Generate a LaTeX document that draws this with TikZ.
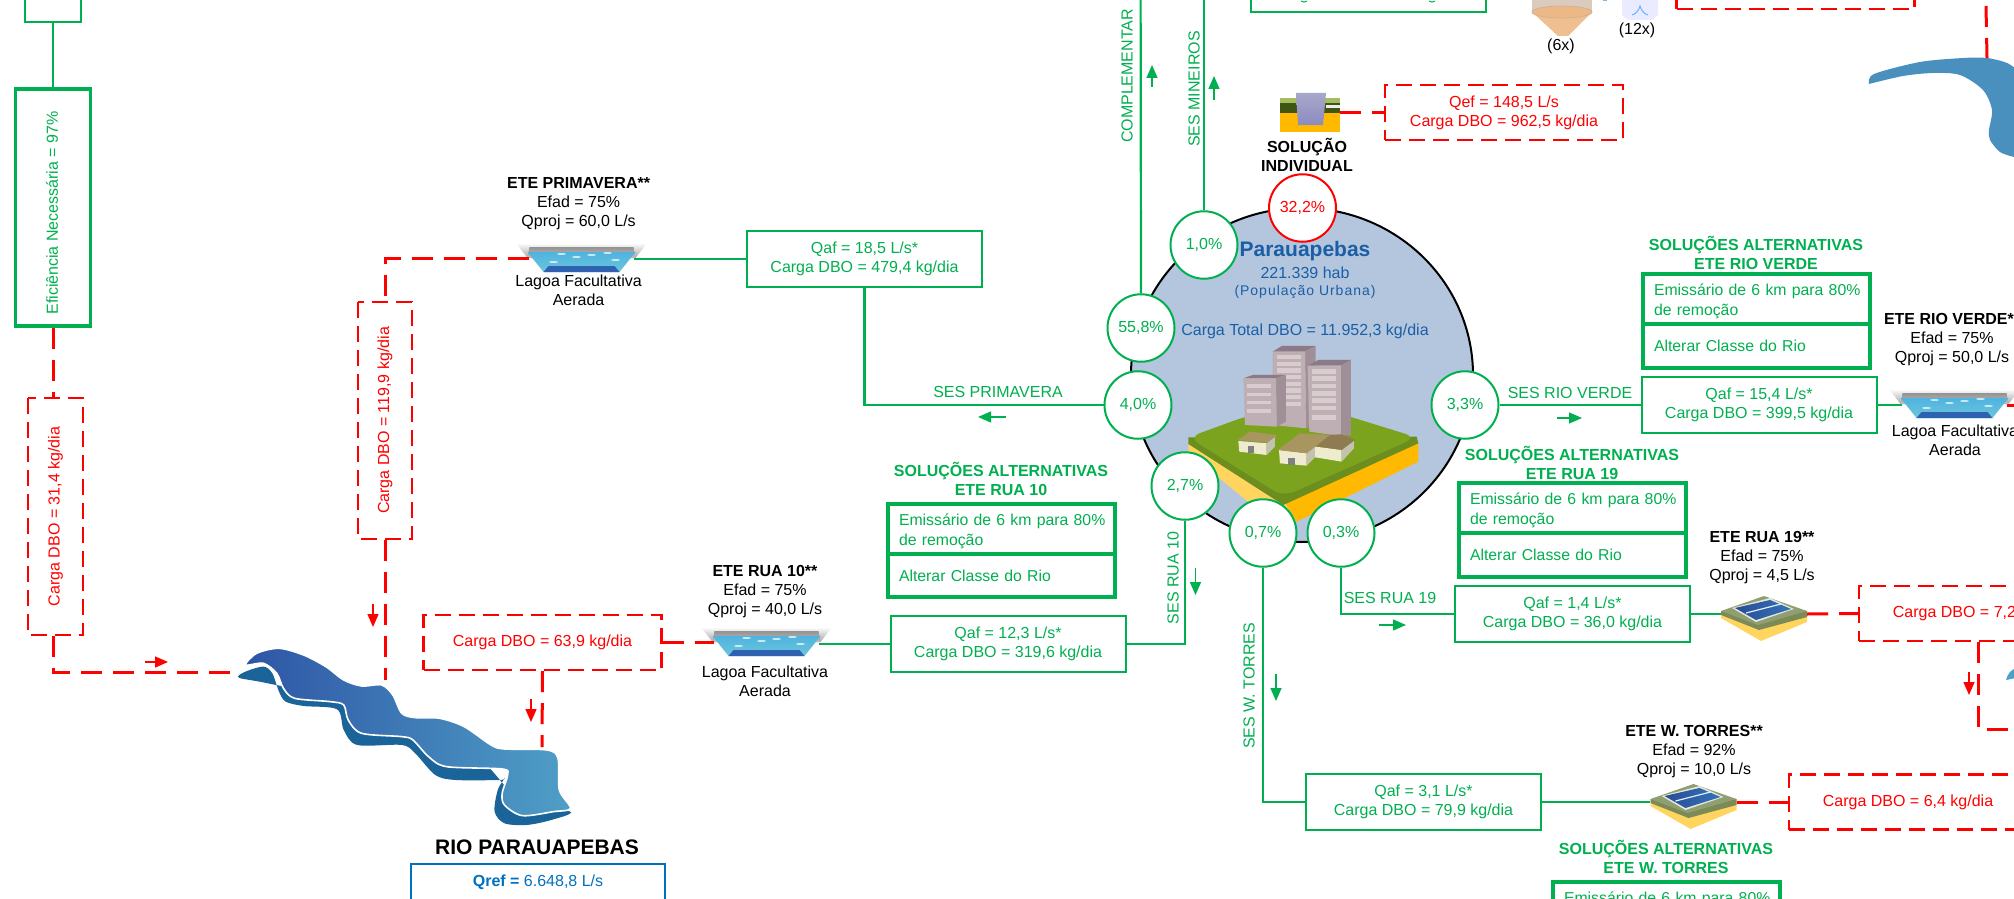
\documentclass[tikz,border=0pt]{standalone}
\usepackage{fontspec}
\setmainfont{Liberation Sans}
\newfontfamily\spacedfont[LetterSpace=7]{Liberation Sans}
\usetikzlibrary{shapes.geometric,arrows.meta}
\definecolor{gn}{HTML}{00B050}
\definecolor{rd}{HTML}{FF0000}
\definecolor{bl}{HTML}{1A5FA6}
\definecolor{qb}{HTML}{0070C0}
\definecolor{cityfill}{HTML}{B4C6DD}
\definecolor{bfront}{HTML}{BDAFB3}
\definecolor{bside}{HTML}{A18F98}
\definecolor{btop}{HTML}{8C7A86}
\definecolor{bwin}{HTML}{D9CCCE}
\definecolor{gtop}{HTML}{7CA31E}
\definecolor{gside}{HTML}{6B8E1E}
\definecolor{ylw}{HTML}{FFD55F}
\definecolor{org}{HTML}{FFB900}
\definecolor{wall}{HTML}{EEEBCF}
\definecolor{wallS}{HTML}{C4C2AE}
\definecolor{roofA}{HTML}{A89560}
\definecolor{roofB}{HTML}{8F7B52}
\definecolor{rivL}{HTML}{2E55A5}
\definecolor{rivR}{HTML}{4F9FC7}
\definecolor{rivB}{HTML}{1A6499}
\definecolor{rivS}{HTML}{4A90BF}
\definecolor{watT}{HTML}{4FB3E0}
\definecolor{watB}{HTML}{6CC6DA}
\definecolor{watD}{HTML}{2E62B0}
\definecolor{tkTop}{HTML}{8F9F72}
\definecolor{tkSide}{HTML}{7C8A55}
\tikzset{
 every node/.style={font=\fontsize{16}{19}\selectfont,inner sep=0pt},
 gl/.style={draw=gn,line width=2.2pt},
 rl/.style={draw=rd,line width=3pt,dash pattern=on 21pt off 11pt},
 qbox/.style={draw=gn,line width=2pt,text=gn,align=center,minimum width=235pt,minimum height=56pt},
 redbox/.style={draw=rd,line width=2.2pt,dash pattern=on 16pt off 8pt,text=rd,align=center,minimum width=238pt,minimum height=55pt},
 pct/.style={ellipse,draw=gn,fill=white,line width=2pt,text=gn,minimum width=67pt,minimum height=67.5pt},
 altbox/.style={draw=gn,line width=3.6pt,text=gn,minimum width=227pt,text width=222pt,align=left,font=\fontsize{15.8}{20}\selectfont},
 gtxt/.style={text=gn,align=center},
 gtitle/.style={text=gn,align=center,font=\fontsize{16}{19}\selectfont\bfseries},
 btxt/.style={text=black,align=center},
 gflow/.style={draw=gn,line width=1.5pt,-{Triangle[length=13pt,width=11pt,fill=gn]}},
 rflow/.style={draw=rd,line width=1.5pt,-{Triangle[length=13pt,width=11pt,fill=rd]}},
}
\newcommand\altA{\rule{0pt}{16pt}\hspace*{8.5pt}Emissário de 6 km para 80\%\\\hspace*{8.5pt}de remoção}
\newcommand\altB{\hspace*{8.5pt}Alterar Classe do Rio}
\newcommand\lagoaicon[3]{%
 \node[minimum width=131pt,minimum height=29pt] (#1) at (#2,#3+14.5) {};
 \coordinate (#1L) at (#2-53,#3+15);
 \coordinate (#1R) at (#2+52,#3+15);
 \begin{scope}[shift={(#2,#3)}]
  \shade[top color=white,bottom color=gray!70] (-65.5,0) -- (65.5,0) -- (54,15) -- (-54,15) -- cycle;
  \shade[top color=gray!85,bottom color=gray!50] (-52,4) -- (52,4) -- (54,15) -- (-54,15) -- cycle;
  \shade[top color=watT,bottom color=watB] (-54,9) -- (54,9) -- (38,29) -- (-38,29) -- cycle;
  \fill[watD] (-33,23) -- (33,23) -- (38,29) -- (-38,29) -- cycle;
  \foreach \a/\b in {-20/11,-5/14,10/12,26/10,34/17,-28/19}{\fill[white,opacity=.7] (\a,\b) ellipse (4.5pt and 1pt);}
 \end{scope}}
\newcommand\tankicon[3]{%
 \node[minimum width=86pt,minimum height=45pt] (#1) at (#2,#3+22.5) {};
 \begin{scope}[shift={(#2-43,#3)}]
  \fill[ylw] (0,15) -- (0,22) -- (40,45) -- (86,26) -- (86,15) -- cycle;
  \fill[tkSide] (0,15) -- (0,19) -- (38,34) -- (86,21) -- (86,15) -- cycle;
  \fill[tkTop] (0,15) -- (43,0) -- (86,15) -- (37,29) -- cycle;
  \fill[white!75!tkTop] (11,12) -- (49,2) -- (73,13) -- (35,26) -- cycle;
  \shade[left color=rivL!90!black,right color=watD!80!watT] (14,12) -- (49,4) -- (70,13) -- (35,24) -- cycle;
  \draw[white!80!watT,line width=1.2pt] (25,17) -- (60,8);
 \end{scope}}
\newcommand\flowmark[4]{\coordinate (#1a) at (#3); \coordinate (#1b) at (#4); \draw[#2] (#1a) -- (#1b);}
\begin{document}
\begin{tikzpicture}[x=1pt,y=-1pt]
\useasboundingbox (0,0) rectangle (2014,899);
\clip (0,0) rectangle (2014,899);
\fill[white] (0,0) rectangle (2014,899);

% rivers
\begin{scope}[shift={(0,450)},x=0.4464pt,y=-0.3333pt]
 \fill[rivB] plot[smooth cycle,tension=.5] coordinates {(535,683) (550,665) (590,650) (610,670) (625,725) (640,755) (680,768) (755,778) (770,840) (800,885) (900,885) (930,910) (975,975) (1020,990) (1120,990) (1130,985) (1115,1020) (1108,1085) (1130,1120) (1180,1125) (1235,1110) (1278,1085) (1170,1060)(1050,900)(800,760)(600,700)};
 \shadedraw[left color=rivL,right color=rivR,draw=white,line width=1.6pt] plot[smooth cycle,tension=.5] coordinates {(550,645) (575,610) (625,595) (680,615) (730,650) (770,690) (810,708) (855,705) (880,735) (900,790) (930,803) (985,805) (1040,830) (1100,885) (1130,897) (1225,900) (1250,925) (1253,1020) (1278,1075) (1240,1085) (1170,1097) (1130,1065) (1125,1030) (1137,975) (1125,957) (1000,950) (960,920) (925,870) (900,860) (810,850) (780,810) (770,765) (740,755) (660,745) (635,715) (620,670) (590,640)};
\end{scope}
\fill[rivS] plot[smooth,tension=.5] coordinates {(1869,84) (1874,74) (1920,62) (1963,58) (1987,58) (2007,63) (2020,72)} -- (2020,160) -- plot[smooth,tension=.5] coordinates {(2014,157) (2000,152) (1990,140) (1989,130) (1992,110) (1983,90) (1960,75) (1933,73) (1903,76) (1869,84)} -- cycle;
\fill[rivR] (2006,680) .. controls (2008,673) and (2011,670) .. (2016,668) -- (2016,678) -- cycle;
\coordinate (rivA) at (234,672);
\coordinate (rivP) at (385,680);
\coordinate (rivC) at (542,747);
\coordinate (rivD) at (2020,729);
\coordinate (rivE) at (1987,58);

% city circle
\node[ellipse,draw=black,fill=cityfill,line width=2pt,minimum width=342pt,minimum height=334pt] (city) at (1302,375) {};
\begin{scope}[shift={(1110,300)},x=0.3333pt,y=-0.3333pt]
 \fill[ylw] (235,432) -- (235,458) -- (420,610) -- (560,665) -- (525,600) -- cycle;
 \fill[org] (925,430) -- (925,485) -- (560,665) -- (520,600) -- cycle;
 \fill[gside] (235,412) -- (235,432) -- (520,615) -- (925,430) -- (920,410) -- cycle;
 \fill[gtop,rounded corners=12pt] (235,412) -- (405,350) -- (590,310) -- (920,412) -- (520,590) -- cycle;
 \fill[btop] (488,155) -- (515,138) -- (617,138) -- (585,155) -- cycle;
 \fill[bside] (585,155) -- (617,138) -- (617,370) -- (588,385) -- cycle;
 \fill[bfront] (488,155) -- (585,155) -- (588,385) -- (488,375) -- cycle;
 \foreach \yy in {165,185,205,225,245,265,285,305}{\fill[bwin] (500,\yy) rectangle (572,\yy+13);}
 \fill[btop] (400,235) -- (428,225) -- (528,225) -- (498,235) -- cycle;
 \fill[bside] (498,235) -- (528,225) -- (528,365) -- (500,380) -- cycle;
 \fill[bfront] (400,235) -- (498,235) -- (500,380) -- (405,375) -- cycle;
 \foreach \yy in {253,278,303,328}{\fill[bwin] (412,\yy) rectangle (484,\yy+10);}
 \fill[btop] (593,197) -- (625,180) -- (723,180) -- (693,197) -- cycle;
 \fill[bside] (693,197) -- (723,180) -- (723,405) -- (693,408) -- cycle;
 \fill[bfront] (593,197) -- (693,197) -- (693,408) -- (598,395) -- cycle;
 \foreach \yy in {207,229,251,273,295,317,345}{\fill[bwin] (605,\yy) rectangle (678,\yy+14);}
 \fill[wall] (385,423) -- (470,430) -- (470,465) -- (388,455) -- cycle;
 \fill[wallS] (470,430) -- (495,410) -- (495,440) -- (470,465) -- cycle;
 \fill[roofA] (383,420) -- (420,395) -- (503,405) -- (470,428) -- cycle;
 \fill[gray] (413,438) rectangle (433,460);
 \fill[wall] (615,440) -- (695,450) -- (695,485) -- (615,472) -- cycle;
 \fill[wallS] (695,450) -- (732,420) -- (732,445) -- (695,485) -- cycle;
 \fill[roofB] (615,438) -- (650,405) -- (695,403) -- (735,420) -- (695,450) -- cycle;
 \fill[wall] (507,450) -- (590,460) -- (590,497) -- (510,490) -- cycle;
 \fill[wallS] (590,460) -- (615,440) -- (615,472) -- (590,497) -- cycle;
 \fill[roofA] (503,450) -- (570,400) -- (660,405) -- (590,460) -- cycle;
 \fill[gray] (535,473) rectangle (555,495);
\end{scope}

\node[text=bl,font=\fontsize{21}{24}\selectfont\bfseries] (t1) at (1305,251) {Parauapebas};
\node[text=bl] (t2) at (1305,273) {221.339 hab};
\node[text=bl,font=\fontsize{14}{16}\spacedfont] (t3) at (1305,292) {(População Urbana)};
\node[text=bl] (t4) at (1305,331) {Carga Total DBO = 11.952,3 kg/dia};

% boxes top-left
\node[draw=gn,line width=2pt,minimum width=56pt,minimum height=60pt] (topbox) at (53,-8) {};
\node[draw=gn,line width=3.6pt,minimum width=75pt,minimum height=237pt] (eff) at (53,207.5) {};
\node[text=gn,rotate=90] (efft) at (52,213) {Eficiência Necessária = 97\%};
\node[redbox,rotate=90,minimum width=237pt,minimum height=55pt] (dbo31) at (55.5,516.5) {Carga DBO = 31,4 kg/dia};
\node[redbox,rotate=90,minimum width=237pt,minimum height=54pt] (dbo119) at (385,420.5) {Carga DBO = 119,9 kg/dia};
\node[redbox] (dbo63) at (542.5,642.5) {Carga DBO = 63,9 kg/dia};
\node[redbox] (dboqef) at (1504,112.5) {Qef = 148,5 L/s\\Carga DBO = 962,5 kg/dia};
\node[redbox] (dbo72) at (1978,613.5) {Carga DBO = 7,2 kg/dia};
\node[redbox] (dbo64) at (1908,802) {Carga DBO = 6,4 kg/dia};
\node[redbox,minimum height=70pt] (dbotop) at (1795.5,-26) {};

\node[qbox] (qtop) at (1368.5,-28) [minimum height=80pt] {};
\draw[gn,line width=1pt] (1301,1) .. controls (1303,2.5) and (1305,2.5) .. (1307,1);
\draw[gn,line width=1pt] (1429,1) .. controls (1431,2.5) and (1433,2.5) .. (1435,1);
\node[qbox] (qprim) at (864.5,259) {Qaf = 18,5 L/s*\\Carga DBO = 479,4 kg/dia};
\node[qbox] (qrua10) at (1008,644) {Qaf = 12,3 L/s*\\Carga DBO = 319,6 kg/dia};
\node[qbox] (qrv) at (1759,405) {Qaf = 15,4 L/s*\\Carga DBO = 399,5 kg/dia};
\node[qbox] (q19) at (1572.5,614) {Qaf = 1,4 L/s*\\Carga DBO = 36,0 kg/dia};
\node[qbox] (qwt) at (1423.5,802) {Qaf = 3,1 L/s*\\Carga DBO = 79,9 kg/dia};

% icons
\lagoaicon{iprim}{581.5}{243}
\lagoaicon{irua10}{766.5}{627}
\lagoaicon{irv}{1954.5}{389}
\tankicon{i19}{1764}{596}
\tankicon{iwt}{1693.5}{784}

\node[minimum width=60pt,minimum height=34pt] (isol) at (1310,115) {};
\fill[org] (1280,113) rectangle (1340,132);
\fill[gside!60!black] (1280,103) rectangle (1340,113);
\fill[gtop!70!white] (1280,98) rectangle (1340,103);
\fill[white!85!gray] (1326,105) rectangle (1340,108);
\shade[top color=blue!25!gray!55,bottom color=blue!30!gray!70] (1296,93) -- (1326,93) -- (1323,125) -- (1298,125) -- cycle;

% cone and tank
\node[minimum width=60pt,minimum height=36pt] (icone) at (1562,18) {};
\fill[orange!25!gray!40!white] (1532,-4) rectangle (1592,12);
\fill[orange!50!brown!50!white] (1532,12) -- (1592,12) -- (1568,36) -- (1558,36) -- cycle;
\fill[orange!45!brown!55!white,draw=orange!40!gray!60,line width=.8pt] (1562,12) ellipse (30pt and 6pt);
\node[minimum width=36pt,minimum height=20pt] (itank) at (1640,10) {};
\fill[blue!8!white] (1622,-3) -- (1658,-3) -- (1658,15) -- (1652,20) -- (1628,20) -- (1622,15) -- cycle;
\draw[blue!50!cyan!60!white,line width=1pt] (1632,15) .. controls (1636,14) and (1639,10) .. (1640,6) .. controls (1641,10) and (1644,14) .. (1648,15);
\fill[qb!50!white] (1603,-2) rectangle (1607,1.2);
\node[btxt] (t6x) at (1561,46.5) {(6x)};
\node[btxt] (t12x) at (1637,30.5) {(12x)};

% connectors
\coordinate (compTop) at (1140.6,-5);
\coordinate (minTop) at (1204,-5);
\draw[gl] (topbox.south) -- (eff.north);
\draw[rl] (eff.south) -- (eff.south |- dbo31.east);
\draw[rl] (eff.south |- dbo31.west) |- (rivA);
\draw[gl] (iprimR |- qprim.west) -- (qprim.west);
\draw[rl] (iprimL) -| (dbo119.east);
\draw[rl] (dbo119.west) -- (rivP);
\draw[rl] (dbo63.east) -- (irua10L |- dbo63.east);
\draw[rl] (dbo63.south) -- (rivC);
\draw[rl] (isol.east |- dboqef.west) -- (dboqef.west);
\coordinate (rtTop) at (1986,6);
\draw[rl] (rtTop) -- (rivE);
\draw[rl] (irvR |- qrv.east) -- (2022,405);
\draw[gl] (irvL |- qrv.east) -- (qrv.east);
\draw[gl] (irua10R |- qrua10.west) -- (qrua10.west);
\draw[gl] (i19.west |- q19.east) -- (q19.east);
\draw[rl] (i19.east |- q19.east) -- (dbo72.west);
\draw[rl] (dbo72.south) |- (rivD);
\draw[gl] (iwt.west |- qwt.east) -- (qwt.east);
\draw[rl] (iwt.east |- qwt.east) -- (dbo64.west);

% percentage circles
\node[pct] (c558) at (1141,328) {55,8\%};
\node[pct] (c40) at (1138,405) {4,0\%};
\node[pct] (c10) at (1204,245) {1,0\%};
\node[pct,draw=rd,text=rd] (c322) at (1302.5,208) {32,2\%};
\node[pct] (c33) at (1465,405) {3,3\%};
\node[pct] (c27) at (1185,486) {2,7\%};
\node[pct] (c07) at (1263,533) {0,7\%};
\node[pct] (c03) at (1341,533) {0,3\%};
\draw[gl] (c558.north) -- (compTop);
\draw[gl] (c10.north) -- (minTop);
\draw[gl] (c40.west) -| (qprim.south);
\draw[gl] (c33.east) -- (qrv.west);
\draw[gl] (qrua10.east) -| (c27.south);
\draw[gl] (c07.south) |- (qwt.west);
\draw[gl] (c03.south) |- (q19.west);

% flow marks
\flowmark{fa}{rflow}{145,662}{168,662}
\flowmark{fb}{rflow}{373,604}{373,627}
\flowmark{fc}{rflow}{531,699}{531,722}
\flowmark{fd}{rflow}{1969,672}{1969,695}
\flowmark{fe}{gflow}{1006,417}{978,417}
\flowmark{ff}{gflow}{1152,87}{1152,65}
\flowmark{fg}{gflow}{1214,100}{1214,76}
\flowmark{fh}{gflow}{1557,418}{1582,418}
\flowmark{fi}{gflow}{1195.5,568}{1195.5,595}
\flowmark{fj}{gflow}{1276,674}{1276,701}
\flowmark{fk}{gflow}{1379,625}{1406,625}

% connector labels
\node[gtxt] (l1) at (998,392) {SES PRIMAVERA};
\node[gtxt,rotate=90] (l2) at (1127,76) {COMPLEMENTAR};
\node[gtxt,rotate=90] (l3) at (1194,89) {SES MINEIROS};
\node[gtxt] (l4) at (1570,393) {SES RIO VERDE};
\node[gtxt,rotate=90] (l5) at (1173,578) {SES RUA 10};
\node[gtxt,rotate=90] (l6) at (1249,686) {SES W. TORRES};
\node[gtxt] (l7) at (1390,598) {SES RUA 19};

% station labels
\node[btxt] (e1) at (578.6,204) {\textbf{ETE PRIMAVERA**}\\Efad = 75\%\\Qproj = 60,0 L/s};
\node[btxt] (e1b) at (578.6,290) {Lagoa Facultativa\\Aerada};
\node[btxt] (e2) at (765,591.5) {\textbf{ETE RUA 10**}\\Efad = 75\%\\Qproj = 40,0 L/s};
\node[btxt] (e2b) at (765,681) {Lagoa Facultativa\\Aerada};
\node[btxt] (e3) at (1952,340) {\textbf{ETE RIO VERDE**}\\Efad = 75\%\\Qproj = 50,0 L/s};
\node[btxt] (e3b) at (1955,440.5) {Lagoa Facultativa\\Aerada};
\node[btxt] (e4) at (1762,557.5) {\textbf{ETE RUA 19**}\\Efad = 75\%\\Qproj = 4,5 L/s};
\node[btxt] (e5) at (1694,751.5) {\textbf{ETE W. TORRES**}\\Efad = 92\%\\Qproj = 10,0 L/s};
\node[btxt,font=\fontsize{16}{19}\selectfont\bfseries] (e6) at (1307,155) {SOLUÇÃO\\INDIVIDUAL};

% alternative solutions
\node[gtitle] (s1) at (1756,252.5) {SOLUÇÕES ALTERNATIVAS\\ETE RIO VERDE};
\node[altbox,minimum height=50pt] (a1) at (1756.5,299) {\altA};
\node[altbox,minimum height=44pt] (b1) at (1756.5,346) {\altB};
\node[gtitle] (s2) at (1001,478.5) {SOLUÇÕES ALTERNATIVAS\\ETE RUA 10};
\node[altbox,minimum height=50pt] (a2) at (1001.5,529) {\altA};
\node[altbox,minimum height=43pt] (b2) at (1001.5,575.5) {\altB};
\node[gtitle] (s3) at (1572,463) {SOLUÇÕES ALTERNATIVAS\\ETE RUA 19};
\node[altbox,minimum height=50pt] (a3) at (1572.5,508) {\altA};
\node[altbox,minimum height=44pt] (b3) at (1572.5,555) {\altB};
\node[gtitle] (s4) at (1666,856.5) {SOLUÇÕES ALTERNATIVAS\\ETE W. TORRES};
\node[altbox,minimum height=50pt] (a4) at (1666.5,907) {\altA};

% river label
\node[font=\fontsize{21}{24}\selectfont\bfseries] (rio) at (537,847) {RIO PARAUAPEBAS};
\node[draw=qb,line width=2pt,minimum width=254pt,minimum height=72pt] (qrefbox) at (538,900) {};
\node[text=qb] (qref) at (538,882) {\textbf{Qref =} 6.648,8 L/s};
\end{tikzpicture}
\end{document}
